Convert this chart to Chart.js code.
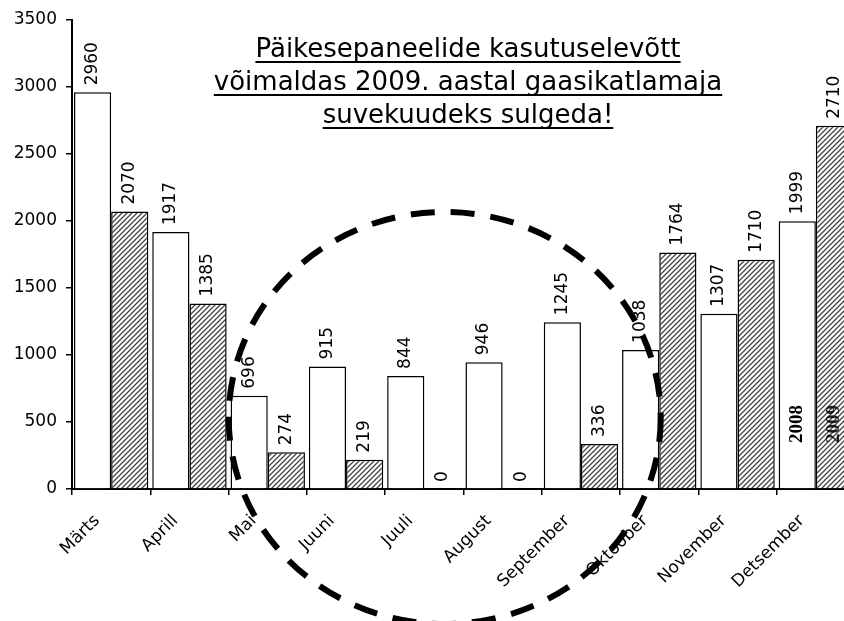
<!DOCTYPE html>
<html>
<head>
<meta charset="utf-8">
<script src="https://cdn.jsdelivr.net/npm/chart.js@4/dist/chart.umd.min.js"></script>
<style>
  html, body { margin: 0; padding: 0; background: #fff; overflow: hidden; }
  canvas { display: block; }
</style>
</head>
<body>
<canvas id="c" width="858" height="621" style="width:858px;height:621px"></canvas>
<script>
const months = ['Märts', 'Aprill', 'Mai', 'Juuni', 'Juuli', 'August', 'September', 'Oktoober', 'November', 'Detsember'];
const values2008 = [2960, 1917, 696, 915, 844, 946, 1245, 1038, 1307, 1999];
const values2009 = [2070, 1385, 274, 219, 0, 0, 336, 1764, 1710, 2710];
const yTicks = [0, 500, 1000, 1500, 2000, 2500, 3000, 3500];
const titleLines = ['Päikesepaneelide kasutuselevõtt', 'võimaldas 2009. aastal gaasikatlamaja', 'suvekuudeks sulgeda!'];

const FONT = '"DejaVu Sans", Verdana, sans-serif';

// diagonal hatch for the 2009 bars
function hatch() {
    const p = document.createElement('canvas');
    p.width = 5; p.height = 5;
    const g = p.getContext('2d');
    g.fillStyle = '#fff';
    g.fillRect(0, 0, 5, 5);
    g.strokeStyle = '#444';
    g.lineWidth = 1.3;
    g.beginPath();
    g.moveTo(-1, 6); g.lineTo(6, -1);
    g.moveTo(-1, 1); g.lineTo(1, -1);
    g.moveTo(4, 6); g.lineTo(6, 4);
    g.stroke();
    return g.createPattern(p, 'repeat');
}

const overlay = {
    id: 'overlay',
    afterDatasetsDraw(chart) {
        const ctx = chart.ctx;
        const x = chart.scales.x, y = chart.scales.y;

        // value labels above bars
        ctx.save();
        ctx.fillStyle = '#000';
        ctx.font = '17px ' + FONT;
        ctx.textAlign = 'left';
        ctx.textBaseline = 'middle';
        chart.data.datasets.forEach((ds, di) => {
            chart.getDatasetMeta(di).data.forEach((bar, i) => {
                ctx.save();
                ctx.translate(bar.x, bar.y - 7);
                ctx.rotate(-Math.PI / 2);
                ctx.fillText(String(ds.data[i]), 0, 0);
                ctx.restore();
            });
        });

        // year marks inside the last pair of bars
        const last = months.length - 1;
        ctx.font = 'bold 19px "Liberation Serif", "Times New Roman", serif';
        [[0, '2008', 1], [1, '2009', 0.85]].forEach(([di, txt, a]) => {
            const bar = chart.getDatasetMeta(di).data[last];
            ctx.save();
            ctx.globalAlpha = a;
            ctx.translate(bar.x, y.getPixelForValue(0) - 46);
            ctx.rotate(-Math.PI / 2);
            ctx.fillText(txt, 0, 0);
            ctx.restore();
        });
        ctx.restore();

        // underlined title
        ctx.save();
        ctx.font = '26px ' + FONT;
        ctx.fillStyle = '#000';
        ctx.textAlign = 'center';
        ctx.textBaseline = 'alphabetic';
        const cx = 468;
        titleLines.forEach((t, i) => {
            const by = 57 + i * 33;
            ctx.fillText(t, cx, by);
            const w = ctx.measureText(t).width;
            ctx.fillRect(cx - w / 2, by + 4, w, 2);
        });
        ctx.restore();

        // dashed circle around the summer months
        ctx.save();
        ctx.strokeStyle = '#000';
        ctx.lineWidth = 6;
        ctx.setLineDash([24, 16]);
        ctx.beginPath();
        ctx.ellipse(x.getPixelForValue(4.26), y.getPixelForValue(530), 216, 206, 0, 0, Math.PI * 2);
        ctx.stroke();
        ctx.restore();
    }
};

new Chart(document.getElementById('c'), {
    type: 'bar',
    data: {
        labels: months,
        datasets: [
            { label: '2008', data: values2008, backgroundColor: '#fff', borderColor: '#000', borderWidth: 1.5,
              categoryPercentage: 0.95, barPercentage: 1 },
            { label: '2009', data: values2009, backgroundColor: hatch(), borderColor: '#000', borderWidth: 1.5,
              categoryPercentage: 0.95, barPercentage: 1 }
        ]
    },
    options: {
        responsive: false,
        animation: false,
        layout: { padding: { top: 20, right: 3, left: 0, bottom: 0 } },
        plugins: { legend: { display: false }, tooltip: { enabled: false } },
        scales: {
            x: {
                afterFit: s => { s.height = 132; },
                border: { color: '#000', width: 2 },
                grid: { drawOnChartArea: false, color: '#000', lineWidth: 1.5, tickLength: 6 },
                ticks: { color: '#000', font: { family: FONT, size: 17 }, minRotation: 45, maxRotation: 45,
                         autoSkip: false, padding: 16, labelOffset: -14 }
            },
            y: {
                min: 0, max: 3500,
                afterFit: s => { s.width = 72; },
                afterBuildTicks: s => { s.ticks = yTicks.map(v => ({ value: v })); },
                border: { color: '#000', width: 2 },
                grid: { drawOnChartArea: false, color: '#000', lineWidth: 1.5, tickLength: 6 },
                ticks: { color: '#000', font: { family: FONT, size: 17 }, padding: 9, callback: v => String(v) }
            }
        }
    },
    plugins: [overlay]
});
</script>
</body>
</html>
